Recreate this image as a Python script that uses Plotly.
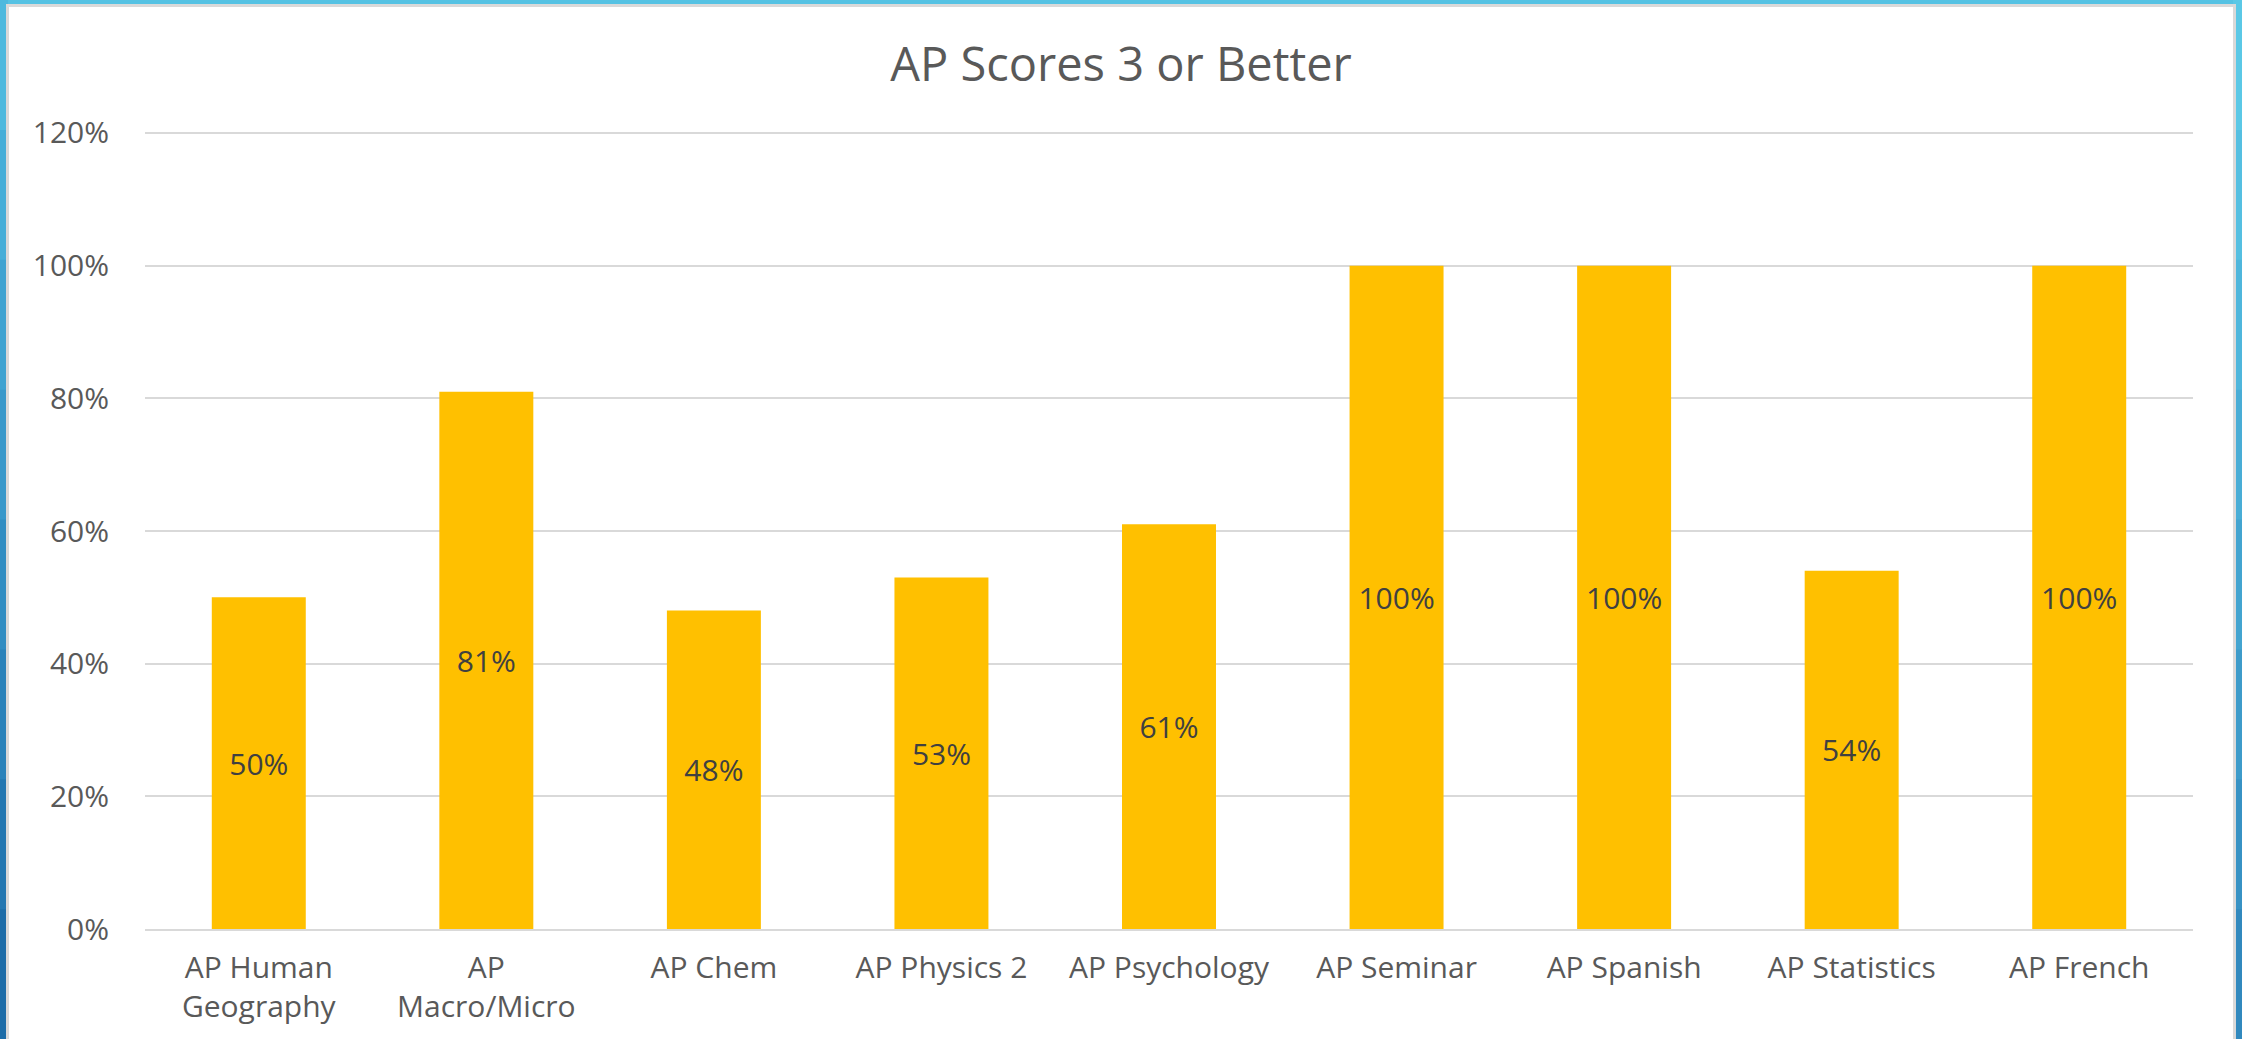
import plotly.graph_objects as go

categories = ["AP Human<br>Geography", "AP<br>Macro/Micro", "AP Chem", "AP Physics 2",
              "AP Psychology", "AP Seminar", "AP Spanish", "AP Statistics", "AP French"]
values = [50, 81, 48, 53, 61, 100, 100, 54, 100]
y_ticks = [0, 20, 40, 60, 80, 100, 120]
y_tick_labels = ["0%", "20%", "40%", "60%", "80%", "100%", "120%"]
title = "AP Scores 3 or Better"

W, H = 2242, 1039
ML, MR, MT, MB = 145, 49, 131, 110
PW, PH = W - ML - MR, H - MT - MB

def px_x(p):
    return (p - ML) / PW

def px_y(p):
    return (H - MB - p) / PH

FONT = "Open Sans"
GRAY = "#595959"

# blue slide frame, drawn as strips with a simple vertical gradient
left_cols = ["#4DB9DE", "#46AED8", "#3FA3D1", "#3898CA", "#318DC2", "#2A82BA", "#2377B1", "#1C6CA8"]
right_cols = ["#5BC8E6", "#55BFE1", "#4FB6DC", "#49ADD6", "#43A4D0", "#3D9BCA", "#3792C4", "#3189BE"]
shapes = []
n = len(left_cols)
for i in range(n):
    y_top = i * H / n
    y_bot = (i + 1) * H / n + 1
    shapes.append(dict(type="rect", xref="paper", yref="paper", layer="below",
                       x0=px_x(0), x1=px_x(8), y0=px_y(y_bot), y1=px_y(y_top),
                       fillcolor=left_cols[i], line=dict(width=0)))
    shapes.append(dict(type="rect", xref="paper", yref="paper", layer="below",
                       x0=px_x(2233), x1=px_x(W), y0=px_y(y_bot), y1=px_y(y_top),
                       fillcolor=right_cols[i], line=dict(width=0)))
shapes.append(dict(type="rect", xref="paper", yref="paper", layer="below",
                   x0=px_x(7.5), x1=px_x(2234.5), y0=px_y(H + 10), y1=px_y(5.5),
                   fillcolor="white", line=dict(color="#D9D9D9", width=3)))

fig = go.Figure(go.Bar(
    x=categories, y=values,
    marker=dict(color="#FFC000", line=dict(width=0)),
    texttemplate="%{y:.0f}%", textposition="inside", insidetextanchor="middle",
    textangle=0, constraintext="none",
    textfont=dict(family=FONT, size=30, color="#404040"),
))

fig.update_layout(
    width=W, height=H,
    margin=dict(l=ML, r=MR, t=MT, b=MB, pad=0),
    paper_bgcolor="#55C2E3",
    plot_bgcolor="rgba(0,0,0,0)",
    bargap=0.587,
    showlegend=False,
    title=dict(text=title, x=0.5, xref="container", xanchor="center",
               y=1 - 65 / H, yanchor="middle",
               font=dict(family=FONT, size=47, color=GRAY)),
    font=dict(family=FONT, color=GRAY),
    shapes=shapes,
)

fig.update_yaxes(
    range=[0, 120.3], tickvals=y_ticks, ticktext=y_tick_labels,
    showgrid=True, gridcolor="#D9D9D9", gridwidth=2,
    zeroline=False, showline=False,
    tickfont=dict(family=FONT, size=30, color=GRAY),
    ticklabelstandoff=35,
)
fig.update_xaxes(
    showline=True, linecolor="#D9D9D9", linewidth=2,
    tickfont=dict(family=FONT, size=30, color=GRAY),
    ticklabelstandoff=11,
)

fig.write_html("out.html", post_script="document.body.style.margin='0';",
               config={"displayModeBar": False})
